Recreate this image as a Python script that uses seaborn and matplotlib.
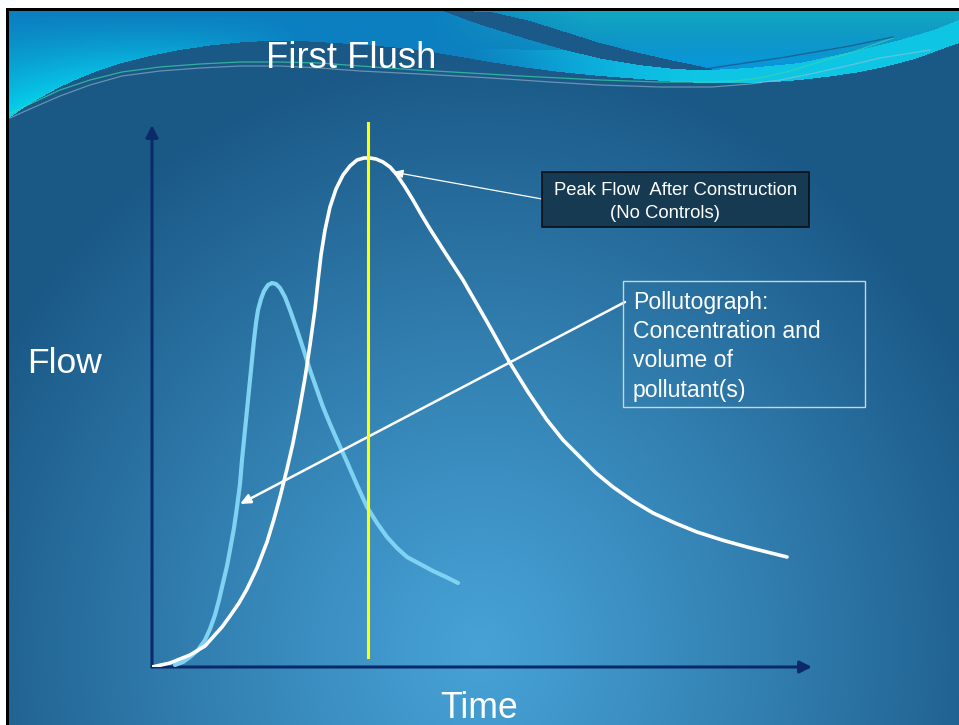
import numpy as np
import matplotlib
matplotlib.use("Agg")
import matplotlib.pyplot as plt
from matplotlib.patches import Rectangle
import seaborn as sns

# Runoff hydrograph after construction (no controls): time vs flow (arbitrary units)
FLOW_TIME = [0, 18, 38, 53, 61, 70, 78, 87, 95, 105, 115, 122, 128, 135, 141, 147,
             153, 158, 163, 166, 169, 173, 178, 184, 191, 198, 205, 212, 218, 224,
             231, 238, 245, 253, 261, 269, 278, 294, 311, 334, 358, 376, 395, 411,
             428, 444, 461, 481, 501, 523, 545, 570, 595, 615, 635]
FLOW_RATE = [0, 4, 12, 21, 30, 40, 51, 64, 78, 99, 125, 148, 170, 198, 224, 255,
             289, 322, 358, 386, 412, 437, 460, 478, 492, 501, 507, 509, 509, 508,
             505, 500, 492, 480, 467, 453, 438, 413, 387, 347, 304, 275, 247, 227,
             210, 194, 180, 166, 154, 144, 135, 127, 120, 115, 110]

# Pollutograph: pollutant load carried by the early runoff
POLL_TIME = [23, 31, 38, 46, 53, 58, 63, 67, 71, 75, 78, 82, 85, 88, 90, 92, 94,
             96, 98, 100, 102, 104, 106, 109, 112, 116, 120, 124, 128, 133, 138,
             145, 151, 158, 165, 171, 178, 185, 195, 205, 215, 225, 235, 245, 255,
             268, 281, 294, 306]
POLL_RATE = [2, 5, 10, 17, 27, 38, 52, 67, 84, 101, 117, 139, 160, 183, 207, 227,
             247, 267, 287, 307, 327, 344, 357, 368, 376, 382, 384, 383, 379, 370,
             357, 337, 319, 297, 277, 260, 243, 227, 205, 182, 160, 144, 130, 119,
             110, 103, 96, 90, 84]

# Time of peak flow, marked with a vertical line
PEAK_TIME = 216
PEAK_SPAN = [10, 544]

TIME_MAX = 660
FLOW_MAX = 542

TITLE = "First Flush"
X_LABEL = "Time"
Y_LABEL = "Flow"
PEAK_NOTE = ["Peak Flow  After Construction", "(No Controls)"]
POLL_NOTE = ["Pollutograph:", "Concentration and", "volume of", "pollutant(s)"]

W, H = 959, 725
FONT = "Liberation Sans"


def rgb(h):
    return np.array([int(h[i:i + 2], 16) for i in (1, 3, 5)]) / 255.0


def mix(a, b, w):
    return a * (1 - w)[..., None] + np.asarray(b) * w[..., None]


# ---- slide background -------------------------------------------------------
yy, xx = np.mgrid[0:H, 0:W] + 0.5
dist = np.sqrt(((xx - 480) / 560) ** 2 + ((yy - 650) / 600) ** 2)
tt = np.clip(dist, 0, 1) ** 1.1
img = mix(np.broadcast_to(rgb("#47a2d6"), (H, W, 3)), rgb("#1a5886"), tt)

# upper edge of the dark body under the header wave
body_x = [9, 25, 40, 60, 80, 100, 122, 150, 180, 210, 245, 270, 300, 335, 367, 395,
          420, 455, 490, 525, 560, 600, 639, 670, 705, 749, 775, 800, 830, 860, 880,
          900, 918, 934, 959]
body_y = [118, 107, 98, 87, 78, 70, 63, 56, 50, 45.5, 42, 41, 41, 43, 45, 47.5,
          50, 56, 62, 67.5, 72, 76, 79, 81.5, 83, 83, 82, 80, 76.5, 72, 68,
          63, 58, 52, 43]
yb = np.interp(xx, body_x, body_y)
head = yy < yb

hdr = np.broadcast_to(rgb("#0c7fc0"), (H, W, 3)).copy()
w_bright = np.clip((xx - 520) / 120, 0, 1) * np.clip((yy - 20) / 40, 0, 1)
hdr = mix(hdr, rgb("#0a95da"), w_bright)
w_teal = np.clip((xx - 430) / 160, 0, 1) * np.clip(1 - (yy - 11) / 55, 0, 1)
hdr = mix(hdr, rgb("#12a9c4"), w_teal)
w_cyan = (np.clip(1 - (xx - 9) / 300, 0, 1) ** 1.1
          * np.clip((yy - 11) / np.maximum(yb - 11, 1), 0, 1) ** 1.3)
hdr = mix(hdr, rgb("#06d4ee"), w_cyan)

# cyan ribbon resting on the body edge
band_x = [440, 546, 565, 600, 639, 670, 694, 710, 749, 800, 860, 900, 934, 959]
band_y = [48, 50, 50, 58, 65, 68.5, 70, 70, 68, 63, 50, 40, 30, 20]
bu = np.interp(xx, band_x, band_y)
band = (xx >= 440) & (yy >= bu) & head
w_band = np.clip((xx - 470) / 220, 0, 1)
hdr = np.where(band[..., None], mix(hdr, rgb("#0ec6e4"), w_band), hdr)

# dark crescent crossing the header
st_x = [443, 467, 491, 530, 565, 600, 639, 670, 694, 712]
st_top = [11, 11.3, 12, 21, 32, 43, 53, 60, 65, 69]
st_bot = [11, 20, 28, 40, 50, 58.5, 65, 68.5, 70, 70]
stripe = ((xx >= 443) & (xx <= 712)
          & (yy >= np.interp(xx, st_x, st_top)) & (yy <= np.interp(xx, st_x, st_bot)))
hdr = np.where(stripe[..., None], rgb("#1b5a88"), hdr)

img = np.where(head[..., None], hdr, img)

# page margin and slide frame
outside = (xx < 9) | (yy < 11)
img = np.where(outside[..., None], 1.0, img)
frame = ((xx >= 6) & (xx < 9) & (yy >= 8)) | ((yy >= 8) & (yy < 11) & (xx >= 6))
img = np.where(frame[..., None], 0.0, img)

fig = plt.figure(figsize=(W / 100, H / 100), dpi=100)
bg = fig.add_axes([0, 0, 1, 1], zorder=0)
bg.imshow(img, extent=(0, W, H, 0), interpolation="bilinear", aspect="auto")
bg.set_xlim(0, W)
bg.set_ylim(H, 0)
bg.axis("off")

# fine lines running along the wave
gx = [10, 30, 60, 90, 122, 160, 200, 240, 280, 320, 360, 417, 470, 520, 600, 660,
      705, 735, 760, 790, 816, 850, 893]
gy = [113, 104, 90, 80, 72, 67, 64, 62, 62, 63, 66, 70, 73, 76, 80, 82, 82, 81,
      78, 71, 63, 53, 38]
bg.plot(gx, gy, color="#3ad6a8", lw=0.9, alpha=0.7, solid_joinstyle="round")
sx = [10, 30, 60, 90, 122, 160, 200, 240, 280, 320, 360, 420, 491, 550, 600, 660,
      712, 750, 780, 810, 842, 880, 930]
sy = [118, 109, 96, 85, 76, 71, 68, 66, 66, 68, 71, 74, 78, 82, 85, 87, 87, 84,
      80, 74, 67, 58, 50]
bg.plot(sx, sy, color="#a8bfd6", lw=0.9, alpha=0.55, solid_joinstyle="round")
bg.plot([705, 745, 780, 815, 850, 893], [69, 63, 58, 52, 46, 37],
        color="#1b5a88", lw=1.0, alpha=0.8)

# ---- chart --------------------------------------------------------------------
ax = fig.add_axes([152 / W, (H - 667) / H, 660 / W, 542 / H], zorder=2)
ax.patch.set_alpha(0)
ax.set_xlim(0, TIME_MAX)
ax.set_ylim(0, FLOW_MAX)

sns.lineplot(x=POLL_TIME, y=POLL_RATE, ax=ax, color="#7fd2f2", linewidth=3.0,
             sort=False, estimator=None, solid_capstyle="round",
             solid_joinstyle="round", zorder=3)
sns.lineplot(x=FLOW_TIME, y=FLOW_RATE, ax=ax, color="white", linewidth=2.6,
             sort=False, estimator=None, solid_capstyle="round",
             solid_joinstyle="round", zorder=4)
ax.plot([PEAK_TIME, PEAK_TIME], PEAK_SPAN, color="#ffff00", lw=2.2,
        clip_on=False, zorder=6)

axis_col = "#0c2a6a"
for tip in [(0, FLOW_MAX), (TIME_MAX, 0)]:
    ax.annotate("", xy=tip, xytext=(0, 0), xycoords="data", textcoords="data",
                annotation_clip=False, zorder=2,
                arrowprops=dict(arrowstyle="-|>,head_length=0.6,head_width=0.3",
                                mutation_scale=12, color=axis_col, lw=2.2,
                                shrinkA=0, shrinkB=0))

# callout arrows
ax.annotate("", xy=(241, 495), xytext=(390, 468), annotation_clip=False, zorder=5,
            arrowprops=dict(arrowstyle="-|>,head_length=0.6,head_width=0.25",
                            mutation_scale=10, color="white", lw=0.9,
                            shrinkA=0, shrinkB=0))
ax.annotate("", xy=(88, 163), xytext=(473, 365), annotation_clip=False, zorder=5,
            arrowprops=dict(arrowstyle="-|>,head_length=0.55,head_width=0.25",
                            mutation_scale=11, color="white", lw=1.8,
                            shrinkA=0, shrinkB=0))
ax.axis("off")

# ---- text layer ---------------------------------------------------------------
ov = fig.add_axes([0, 0, 1, 1], zorder=3)
ov.patch.set_alpha(0)
ov.set_xlim(0, W)
ov.set_ylim(H, 0)
ov.axis("off")

ov.text(266, 68, TITLE, fontsize=26.3, color="white", family=FONT, ha="left", va="baseline")
ov.text(27, 373, Y_LABEL, fontsize=25.5, color="white", family=FONT, ha="left", va="baseline")
ov.text(479.5, 718, X_LABEL, fontsize=25.7, color="white", family=FONT, ha="center", va="baseline")

ov.add_patch(Rectangle((542, 172), 267, 55, facecolor="#163a52", edgecolor="#0a0f18", lw=1.2))
ov.text(675.5, 195, PEAK_NOTE[0], fontsize=13.3, color="white", family=FONT, ha="center", va="baseline")
ov.text(665, 218, PEAK_NOTE[1], fontsize=13.3, color="white", family=FONT, ha="center", va="baseline")

ov.add_patch(Rectangle((623, 281), 242, 126, facecolor="none", edgecolor="#c8d4e0", lw=1.0))
for i, line in enumerate(POLL_NOTE):
    ov.text(633, 309 + 29.2 * i, line, fontsize=16.6, color="white", family=FONT,
            ha="left", va="baseline")

fig.savefig("out.png", dpi=100)
